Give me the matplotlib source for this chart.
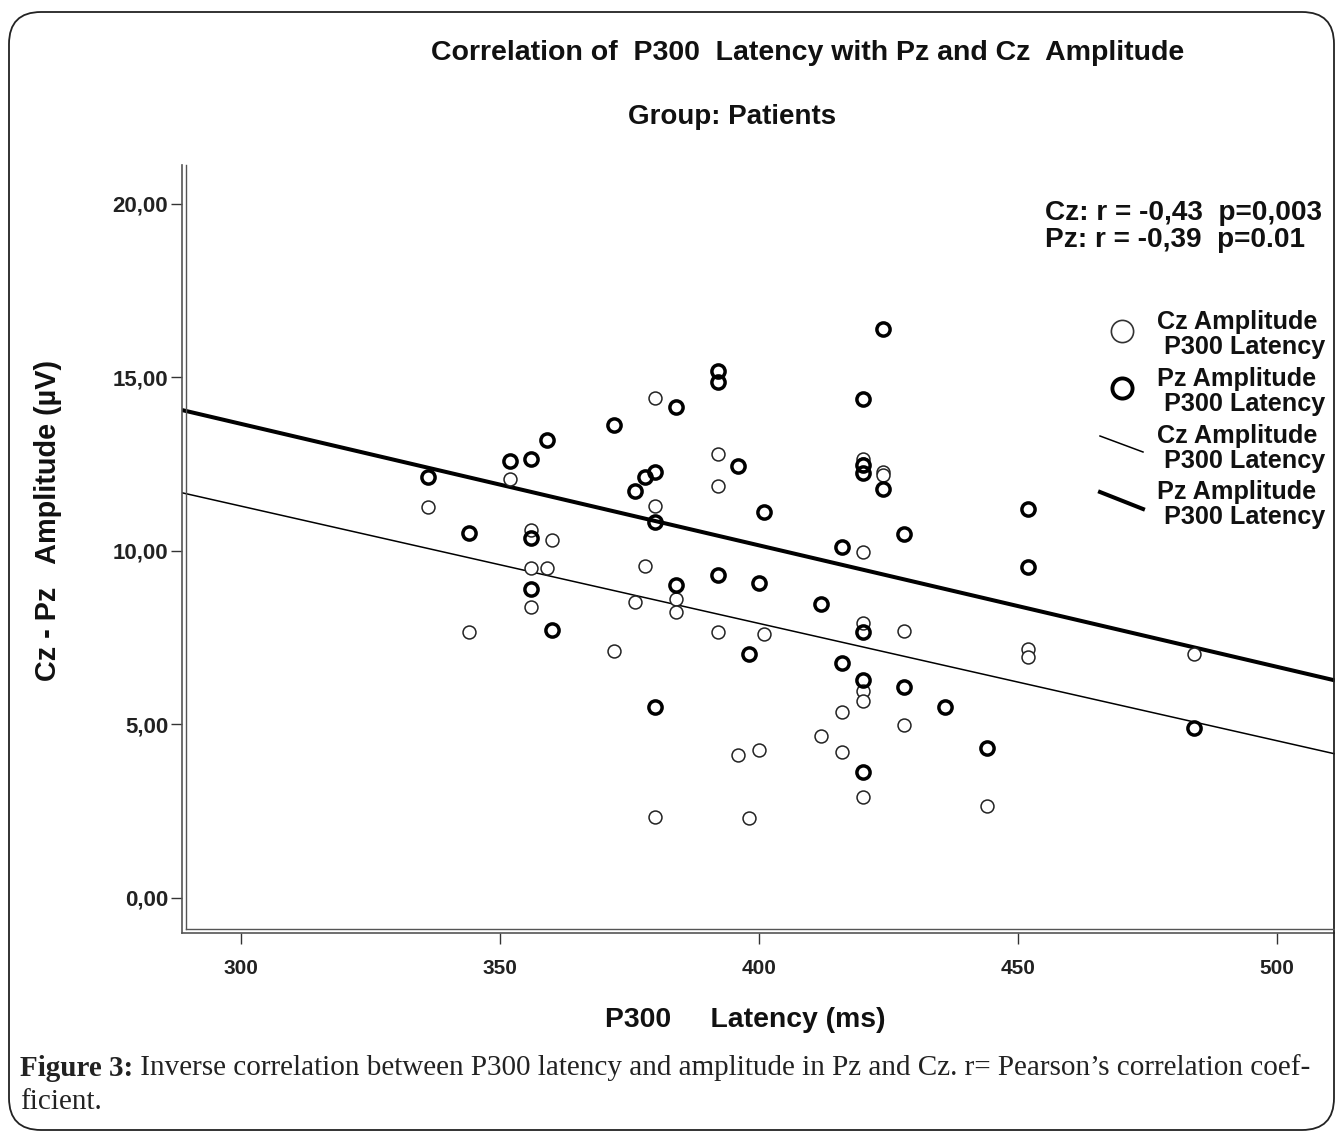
import numpy as np
import matplotlib
matplotlib.use('Agg')
import matplotlib.pyplot as plt
from matplotlib.lines import Line2D
from matplotlib.patches import FancyBboxPatch
import matplotlib.transforms as mtransforms

# ---------------- data ----------------
cz_latency = [336, 352, 356, 360, 356, 359, 356, 344, 380, 392, 392, 380, 420,
              424, 424, 420, 378, 376, 384, 384, 420, 428, 392, 401, 372, 420,
              420, 416, 428, 412, 396, 400, 416, 420, 380, 398, 444, 452, 452,
              484, 420]
cz_amp = [11.26, 12.06, 10.60, 10.32, 9.52, 9.52, 8.37, 7.65, 14.42, 12.80, 11.87,
          11.30, 12.65, 12.28, 12.18, 9.96, 9.57, 8.54, 8.62, 8.25, 7.93, 7.70,
          7.65, 7.61, 7.12, 5.95, 5.68, 5.37, 4.98, 4.67, 4.12, 4.27, 4.21, 2.92,
          2.34, 2.29, 2.66, 7.16, 6.93, 7.02, 12.50]

pz_latency = [336, 352, 356, 359, 344, 356, 356, 360, 424, 392, 392, 384, 372,
              420, 396, 378, 380, 376, 380, 401, 420, 420, 424, 428, 416, 384,
              392, 400, 412, 420, 398, 416, 420, 428, 436, 380, 420, 452, 452,
              484, 444]
pz_amp = [12.14, 12.60, 12.65, 13.20, 10.53, 10.37, 8.89, 7.72, 16.39, 15.17, 14.88,
          14.16, 13.63, 14.38, 12.46, 12.14, 12.28, 11.73, 10.84, 11.13, 12.48,
          12.25, 11.79, 10.50, 10.12, 9.02, 9.31, 9.07, 8.47, 7.65, 7.03, 6.76,
          6.28, 6.09, 5.49, 5.49, 3.64, 11.20, 9.55, 4.89, 4.31]

# fit lines (value at latency 300 and 500)
fit_latency = [300, 500]
cz_fit_amp = [11.29, 4.53]
pz_fit_amp = [13.66, 6.66]

x_ticks = [300, 350, 400, 450, 500]
y_ticks = [0, 5, 10, 15, 20]
y_tick_labels = ['0,00', '5,00', '10,00', '15,00', '20,00']
stats_lines = ['Cz: r = -0,43  p=0,003', 'Pz: r = -0,39  p=0.01']
legend_labels = ['Cz Amplitude', 'Pz Amplitude', 'Cz Amplitude', 'Pz Amplitude']
legend_sub = ' P300 Latency'
title1 = 'Correlation of  P300  Latency with Pz and Cz  Amplitude'
title2 = 'Group: Patients'
xlabel = 'P300     Latency (ms)'
ylabel = 'Cz - Pz   Amplitude (µV)'
caption_bold = 'Figure 3:'
caption_rest = ' Inverse correlation between P300 latency and amplitude in Pz and Cz. r= Pearson\u2019s correlation coef-'
caption_line2 = 'ficient.'

# ---------------- figure ----------------
W, H = 1335, 1133
fig = plt.figure(figsize=(W / 100, H / 100), dpi=100)
fig.patch.set_facecolor('white')
SANS = ['Liberation Sans', 'DejaVu Sans']
SERIF = ['Liberation Serif', 'DejaVu Serif']

def fx(px):
    return px / W

def fy(py):
    return 1 - py / H

ax_left, ax_right, ax_top, ax_bot = 182, W, 165, 933
ax = fig.add_axes([fx(ax_left), fy(ax_bot), (ax_right - ax_left) / W, (ax_bot - ax_top) / H])
ax.set_xlim(288.6, 511.2)
ax.set_ylim(-1.01, 21.12)

# regression lines
xl = np.array(ax.get_xlim())
for ys, lw in [(cz_fit_amp, 1.1), (pz_fit_amp, 2.9)]:
    b, a = np.polyfit(fit_latency, ys, 1)
    ax.plot(xl, a + b * xl, color='black', lw=lw, solid_capstyle='butt', zorder=2)

# points
ax.plot(cz_latency, cz_amp, 'o', ms=9.3, mfc='white', mec='#222222', mew=1.1,
        ls='none', zorder=3)
ax.plot(pz_latency, pz_amp, 'o', ms=9.5, mfc='none', mec='black', mew=2.5,
        ls='none', zorder=4)

# axes styling
for s in ['top', 'right']:
    ax.spines[s].set_visible(False)
for s in ['left', 'bottom']:
    ax.spines[s].set_color('#555555')
    ax.spines[s].set_linewidth(1.2)
ax.set_xticks(x_ticks)
ax.set_yticks(y_ticks)
ax.set_yticklabels(y_tick_labels)
ax.tick_params(axis='both', direction='out', length=8, width=1.0, color='#333333')
ax.tick_params(axis='x', pad=11)
ax.tick_params(axis='y', pad=2)
for lab in ax.get_xticklabels():
    lab.set_fontfamily(SANS); lab.set_fontweight('bold'); lab.set_fontsize(15); lab.set_color('#222222')
for lab in ax.get_yticklabels():
    lab.set_fontfamily(SANS); lab.set_fontweight('bold'); lab.set_fontsize(16); lab.set_color('#222222')

# inner line of double spine
fig.add_artist(Line2D([fx(186), fx(186)], [fy(929), fy(ax_top)], color='#555555', lw=1.0))
fig.add_artist(Line2D([fx(186), fx(W)], [fy(929), fy(929)], color='#555555', lw=1.0))

# titles and labels
fig.text(fx(808), fy(53), title1, ha='center', va='center', fontsize=20.5,
         fontweight='bold', family=SANS, color='#111111')
fig.text(fx(732), fy(117), title2, ha='center', va='center', fontsize=20,
         fontweight='bold', family=SANS, color='#111111')
fig.text(fx(745), fy(1020), xlabel, ha='center', va='center', fontsize=20.4,
         fontweight='bold', family=SANS, color='#111111')
fig.text(fx(48), fy(520), ylabel, ha='center', va='center', rotation=90,
         fontsize=20.8, fontweight='bold', family=SANS, color='#111111')

# stats text
for i, t in enumerate(stats_lines):
    fig.text(fx(1045), fy(213 + 27 * i), t, ha='left', va='center', fontsize=20.2,
             fontweight='bold', family=SANS, color='#111111')

# manual legend
rows = [333, 390, 447, 503]
for i, (r, lab) in enumerate(zip(rows, legend_labels)):
    fig.text(fx(1157), fy(r - 11), lab, ha='left', va='center', fontsize=18.2,
             fontweight='bold', family=SANS, color='#111111')
    fig.text(fx(1157), fy(r + 14), legend_sub, ha='left', va='center', fontsize=18.2,
             fontweight='bold', family=SANS, color='#111111')
fig.add_artist(Line2D([fx(1122)], [fy(331)], marker='o', ms=16, mfc='white',
                      mec='#333333', mew=1.2, ls='none'))
fig.add_artist(Line2D([fx(1122)], [fy(388)], marker='o', ms=14.5, mfc='none',
                      mec='black', mew=2.8, ls='none'))
fig.add_artist(Line2D([fx(1100), fx(1143)], [fy(436), fy(452)], color='black', lw=1.1))
fig.add_artist(Line2D([fx(1100), fx(1143)], [fy(492), fy(509)], color='black', lw=2.9))

# caption
fig.canvas.draw()
r = fig.canvas.get_renderer()
tb = fig.text(fx(20), fy(1068), caption_bold, ha='left', va='center', fontsize=21,
              fontweight='bold', family=SERIF, color='#222222')
bb = tb.get_window_extent(renderer=r)
fig.text(bb.x1 / W, fy(1068), caption_rest, ha='left', va='center', fontsize=21,
         family=SERIF, color='#222222')
fig.text(fx(20), fy(1102), caption_line2, ha='left', va='center', fontsize=21,
         family=SERIF, color='#222222')

# rounded frame
frame = FancyBboxPatch((9, H - 1130), 1325, 1118, boxstyle='round,pad=0,rounding_size=32',
                       fc='none', ec='#222222', lw=1.3, transform=mtransforms.IdentityTransform())
fig.add_artist(frame)

fig.savefig('out.png', dpi=100, facecolor='white')
